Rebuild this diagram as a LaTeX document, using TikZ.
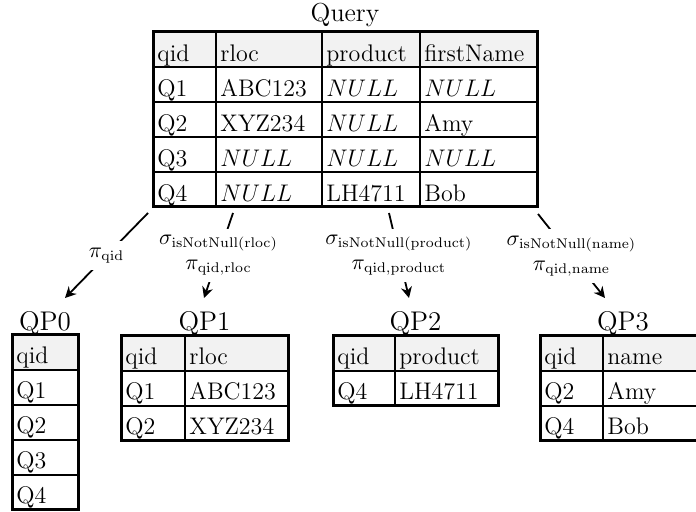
\documentclass[tikz,border=0pt]{standalone}
\usetikzlibrary{arrows.meta}
\definecolor{headgray}{HTML}{F2F2F2}
\tikzset{
  x=0.5pt, y=-0.5pt,
  cell/.style={anchor=base west, inner sep=0pt, font=\fontsize{12}{14}\selectfont},
  tabtitle/.style={anchor=base, inner sep=0pt, font=\fontsize{13.5}{16}\selectfont},
  outerline/.style={line width=1.5pt},
  innerline/.style={line width=1pt},
  opedge/.style={draw, line width=0.9pt, -{Stealth[length=5.5pt,width=5.5pt]}},
  oplabel/.style={midway, fill=white, align=center, inner sep=3.3pt,
                  font=\fontsize{10.6}{12.5}\selectfont},
}
% one row of a table: #1 table name, #2 row index, #3 baseline, #4 list x/text
\newcommand\tabrow[4]{%
  \foreach \cx/\ct [count=\ci] in {#4}
    \node[cell] (#1-#2-\ci) at (\cx+4,#3) {\ct};}
\begin{document}
\begin{tikzpicture}
\useasboundingbox (0,0) rectangle (696,512);
\begin{scope}
\clip (0,0) rectangle (696,512);

% ---------- Query ----------
\node[tabtitle, font=\fontsize{13}{15}\selectfont] (tq) at (345,22) {Query};
\fill[headgray] (153,32) rectangle (537,67);
\foreach \y in {67,102,137,172} \draw[innerline] (153,\y) -- (537,\y);
\foreach \x in {216,322,420} \draw[innerline] (\x,32) -- (\x,207);
\draw[outerline] (153,32) rectangle (537,207);
\tabrow{q}{0}{61.5}{153/qid, 216/rloc, 322/product, 420/firstName}
\tabrow{q}{1}{96.5}{153/Q1, 216/ABC123, 322/$NULL$, 420/$NULL$}
\tabrow{q}{2}{131.5}{153/Q2, 216/XYZ234, 322/$NULL$, 420/Amy}
\tabrow{q}{3}{166.5}{153/Q3, 216/$NULL$, 322/$NULL$, 420/$NULL$}
\tabrow{q}{4}{201.5}{153/Q4, 216/$NULL$, 322/LH4711, 420/Bob}

% ---------- QP0 ----------
\node[tabtitle] (t0) at (45,331) {QP0};
\fill[headgray] (12,335) rectangle (78,370);
\foreach \y in {370,405,440,475} \draw[innerline] (12,\y) -- (78,\y);
\draw[outerline] (12,335) rectangle (78,510);
\tabrow{p0}{0}{364}{12/qid}
\tabrow{p0}{1}{399}{12/Q1}
\tabrow{p0}{2}{434}{12/Q2}
\tabrow{p0}{3}{469}{12/Q3}
\tabrow{p0}{4}{504}{12/Q4}

% ---------- QP1 ----------
\node[tabtitle] (t1) at (204.5,331) {QP1};
\fill[headgray] (121,336) rectangle (288,371);
\draw[innerline] (121,371) -- (288,371) (121,406) -- (288,406) (185,336) -- (185,441);
\draw[outerline] (121,336) rectangle (288,441);
\tabrow{p1}{0}{365}{121/qid, 185/rloc}
\tabrow{p1}{1}{400}{121/Q1, 185/ABC123}
\tabrow{p1}{2}{435}{121/Q2, 185/XYZ234}

% ---------- QP2 ----------
\node[tabtitle] (t2) at (415.5,331) {QP2};
\fill[headgray] (333,336) rectangle (498,371);
\draw[innerline] (333,371) -- (498,371) (395,336) -- (395,406);
\draw[outerline] (333,336) rectangle (498,406);
\tabrow{p2}{0}{365}{333/qid, 395/product}
\tabrow{p2}{1}{400}{333/Q4, 395/LH4711}

% ---------- QP3 ----------
\node[tabtitle] (t3) at (623,331) {QP3};
\fill[headgray] (540,336) rectangle (706,371);
\draw[innerline] (540,371) -- (706,371) (540,406) -- (706,406) (603,336) -- (603,441);
\draw[outerline] (540,336) rectangle (706,441);
\tabrow{p3}{0}{365}{540/qid, 603/name}
\tabrow{p3}{1}{400}{540/Q2, 603/Amy}
\tabrow{p3}{2}{435}{540/Q4, 603/Bob}
\end{scope}

% ---------- operators ----------
\coordinate (s0) at (148,213); \coordinate (e0) at (65,298);
\coordinate (s1) at (233,213); \coordinate (e1) at (204,298);
\coordinate (s2) at (389,213); \coordinate (e2) at (409,298);
\coordinate (s3) at (538,214); \coordinate (e3) at (605,298);

\draw[opedge] (s0) -- node[oplabel] (l0) {$\pi_{\mathrm{qid}}$} (e0);
\draw[opedge] (s1) -- node[oplabel] (l1)
  {$\sigma_{\mathrm{isNotNull(rloc)}}$\\ $\pi_{\mathrm{qid,rloc}}$} (e1);
\draw[opedge] (s2) -- node[oplabel] (l2)
  {$\sigma_{\mathrm{isNotNull(product)}}$\\ $\pi_{\mathrm{qid,product}}$} (e2);
\draw[opedge] (s3) -- node[oplabel] (l3)
  {$\sigma_{\mathrm{isNotNull(name)}}$\\ $\pi_{\mathrm{qid,name}}$} (e3);
\end{tikzpicture}
\end{document}
